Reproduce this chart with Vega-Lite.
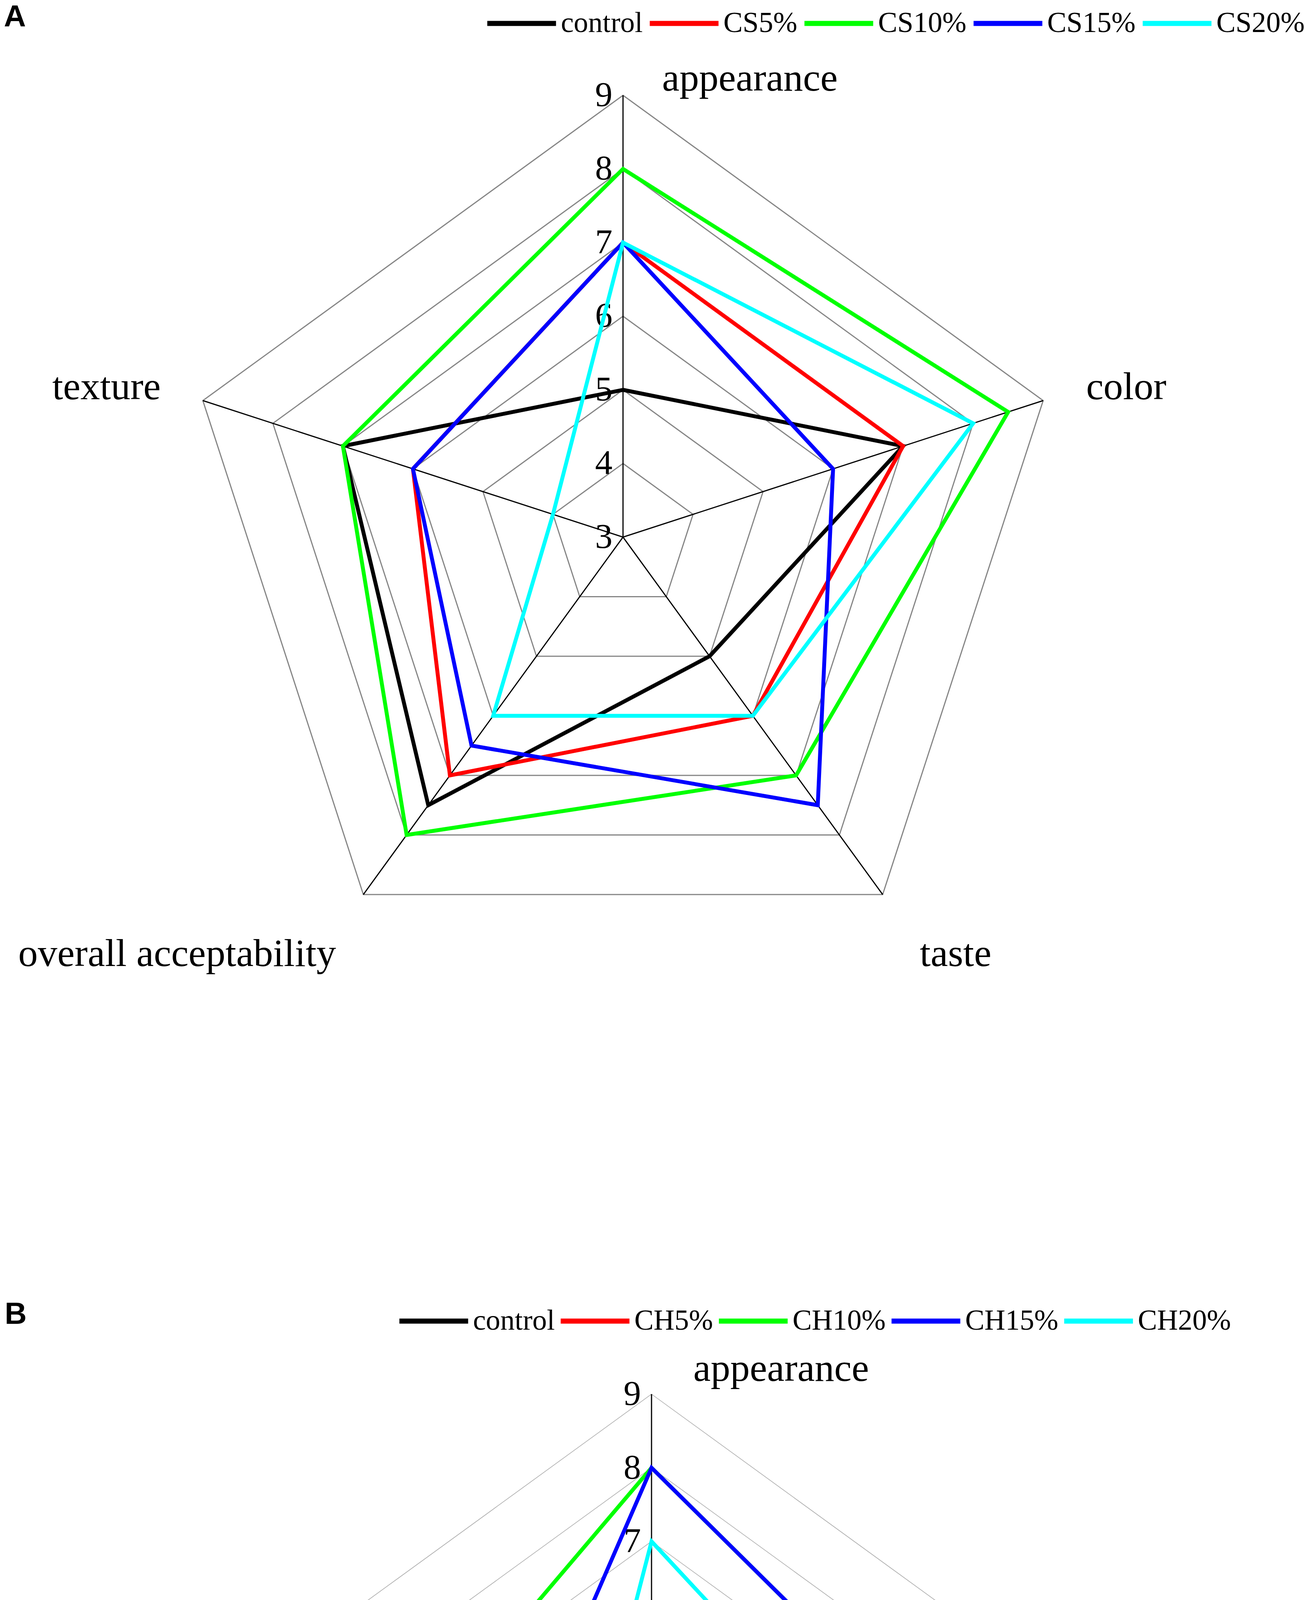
{
  "$schema": "https://vega.github.io/schema/vega-lite/v6.json",
  "padding": 0,
  "background": "white",
  "spacing": 0,
  "resolve": {"scale": {"color": "independent"}, "legend": {"color": "independent"}},
  "config": {"view": {"stroke": null}, "font": "Liberation Serif"},
  "datasets": {
    "grid": [
      {"attr": "appearance", "level": [3, 4, 5, 6, 7, 8, 9]},
      {"attr": "color", "level": [3, 4, 5, 6, 7, 8, 9]},
      {"attr": "taste", "level": [3, 4, 5, 6, 7, 8, 9]},
      {"attr": "overall acceptability", "level": [3, 4, 5, 6, 7, 8, 9]},
      {"attr": "texture", "level": [3, 4, 5, 6, 7, 8, 9]}
    ],
    "A": [
      {"sample": "control", "attr": "appearance", "score": 5},
      {"sample": "control", "attr": "color", "score": 7},
      {"sample": "control", "attr": "taste", "score": 5},
      {"sample": "control", "attr": "overall acceptability", "score": 7.5},
      {"sample": "control", "attr": "texture", "score": 7},
      {"sample": "CS5%", "attr": "appearance", "score": 7},
      {"sample": "CS5%", "attr": "color", "score": 7},
      {"sample": "CS5%", "attr": "taste", "score": 6},
      {"sample": "CS5%", "attr": "overall acceptability", "score": 7},
      {"sample": "CS5%", "attr": "texture", "score": 6},
      {"sample": "CS10%", "attr": "appearance", "score": 8},
      {"sample": "CS10%", "attr": "color", "score": 8.5},
      {"sample": "CS10%", "attr": "taste", "score": 7},
      {"sample": "CS10%", "attr": "overall acceptability", "score": 8},
      {"sample": "CS10%", "attr": "texture", "score": 7},
      {"sample": "CS15%", "attr": "appearance", "score": 7},
      {"sample": "CS15%", "attr": "color", "score": 6},
      {"sample": "CS15%", "attr": "taste", "score": 7.5},
      {"sample": "CS15%", "attr": "overall acceptability", "score": 6.5},
      {"sample": "CS15%", "attr": "texture", "score": 6},
      {"sample": "CS20%", "attr": "appearance", "score": 7},
      {"sample": "CS20%", "attr": "color", "score": 8},
      {"sample": "CS20%", "attr": "taste", "score": 6},
      {"sample": "CS20%", "attr": "overall acceptability", "score": 6},
      {"sample": "CS20%", "attr": "texture", "score": 4}
    ],
    "B": [
      {"sample": "control", "attr": "appearance", "score": 5},
      {"sample": "control", "attr": "color", "score": 7},
      {"sample": "control", "attr": "taste", "score": 5},
      {"sample": "control", "attr": "overall acceptability", "score": 7.5},
      {"sample": "control", "attr": "texture", "score": 7},
      {"sample": "CH5%", "attr": "appearance", "score": 6},
      {"sample": "CH5%", "attr": "color", "score": 5},
      {"sample": "CH5%", "attr": "taste", "score": 5},
      {"sample": "CH5%", "attr": "overall acceptability", "score": 6.5},
      {"sample": "CH5%", "attr": "texture", "score": 6},
      {"sample": "CH10%", "attr": "appearance", "score": 8},
      {"sample": "CH10%", "attr": "color", "score": 7},
      {"sample": "CH10%", "attr": "taste", "score": 7},
      {"sample": "CH10%", "attr": "overall acceptability", "score": 7.5},
      {"sample": "CH10%", "attr": "texture", "score": 6.5},
      {"sample": "CH15%", "attr": "appearance", "score": 8},
      {"sample": "CH15%", "attr": "color", "score": 7},
      {"sample": "CH15%", "attr": "taste", "score": 6.5},
      {"sample": "CH15%", "attr": "overall acceptability", "score": 6},
      {"sample": "CH15%", "attr": "texture", "score": 5},
      {"sample": "CH20%", "attr": "appearance", "score": 7},
      {"sample": "CH20%", "attr": "color", "score": 6},
      {"sample": "CH20%", "attr": "taste", "score": 6},
      {"sample": "CH20%", "attr": "overall acceptability", "score": 6},
      {"sample": "CH20%", "attr": "texture", "score": 4}
    ]
  },
  "vconcat": [
    {
      "width": 3341,
      "height": 3300,
      "layer": [
        {
          "data": {"name": "grid"},
          "transform": [
            {"flatten": ["level"]},
            {"filter": "datum.level > 3"},
            {"calculate": "indexof(['appearance','color','taste','overall acceptability','texture'], datum.attr)", "as": "idx"},
            {"calculate": "(datum.level - 3) * sin(datum.idx * 2 * PI / 5)", "as": "px"},
            {"calculate": "(datum.level - 3) * cos(datum.idx * 2 * PI / 5)", "as": "py"}
          ],
          "mark": {"type": "line", "interpolate": "linear-closed", "stroke": "#858585", "strokeWidth": 3},
          "encoding": {
            "x": {"field": "px", "type": "quantitative", "scale": {"domain": [-8.4615, 9.2626], "nice": false, "zero": false}, "axis": null},
            "y": {"field": "py", "type": "quantitative", "scale": {"domain": [-10.2122, 7.2944], "nice": false, "zero": false}, "axis": null},
            "detail": {"field": "level", "type": "nominal"},
            "order": {"field": "idx", "type": "quantitative"}
          }
        },
        {
          "data": {"name": "grid"},
          "transform": [
            {"flatten": ["level"]},
            {"filter": "datum.level == 9"},
            {"calculate": "indexof(['appearance','color','taste','overall acceptability','texture'], datum.attr)", "as": "idx"},
            {"calculate": "(datum.level - 3) * sin(datum.idx * 2 * PI / 5)", "as": "px"},
            {"calculate": "(datum.level - 3) * cos(datum.idx * 2 * PI / 5)", "as": "py"}
          ],
          "mark": {"type": "rule", "stroke": "black", "strokeWidth": 3},
          "encoding": {
            "x": {"field": "px", "type": "quantitative"},
            "y": {"field": "py", "type": "quantitative"},
            "x2": {"datum": 0},
            "y2": {"datum": 0}
          }
        },
        {
          "data": {"name": "grid"},
          "transform": [
            {"flatten": ["level"]},
            {"filter": "datum.attr == 'appearance'"},
            {"calculate": "datum.level - 3", "as": "py"},
            {"calculate": "0", "as": "px"}
          ],
          "mark": {"type": "text", "align": "right", "baseline": "middle", "dx": -27, "font": "Liberation Serif", "fontSize": 89, "color": "black"},
          "encoding": {
            "x": {"field": "px", "type": "quantitative"},
            "y": {"field": "py", "type": "quantitative"},
            "text": {"field": "level", "type": "nominal"}
          }
        },
        {
          "data": {"name": "A"},
          "transform": [
            {"calculate": "indexof(['appearance','color','taste','overall acceptability','texture'], datum.attr)", "as": "idx"},
            {"calculate": "(datum.score - 3) * sin(datum.idx * 2 * PI / 5)", "as": "px"},
            {"calculate": "(datum.score - 3) * cos(datum.idx * 2 * PI / 5)", "as": "py"}
          ],
          "mark": {"type": "line", "interpolate": "linear-closed", "strokeWidth": 10},
          "encoding": {
            "x": {"field": "px", "type": "quantitative"},
            "y": {"field": "py", "type": "quantitative"},
            "order": {"field": "idx", "type": "quantitative"},
            "color": {
              "field": "sample", "type": "nominal",
              "scale": {"domain": ["control", "CS5%", "CS10%", "CS15%", "CS20%"], "range": ["#000000", "#ff0000", "#00ff00", "#0000ff", "#00ffff"]},
              "legend": {"title": "A", "titleOrient": "left", "titleAnchor": "start", "titleBaseline": "top", "titleFont": "Liberation Sans", "titleFontSize": 78, "titleFontWeight": "bold", "titleColor": "black", "titlePadding": 1174, "orient": "none", "direction": "horizontal", "legendX": 10, "legendY": 6, "symbolType": "stroke", "symbolSize": 30976, "symbolStrokeWidth": 13, "labelFont": "Liberation Serif", "labelFontSize": 74, "labelColor": "black", "labelOffset": 6, "columnPadding": 11, "clipHeight": 108, "labelLimit": 0, "padding": 0}
            }
          }
        },
        {
          "data": {"name": "grid"},
          "transform": [
            {"flatten": ["level"]},
            {"filter": "datum.level == 9 && datum.attr == 'appearance'"},
            {"calculate": "0", "as": "px"},
            {"calculate": "6", "as": "py"}
          ],
          "mark": {"type": "text", "align": "left", "baseline": "alphabetic", "dx": 100, "dy": -12, "font": "Liberation Serif", "fontSize": 100, "color": "black"},
          "encoding": {"x": {"field": "px", "type": "quantitative"}, "y": {"field": "py", "type": "quantitative"}, "text": {"field": "attr"}}
        },
        {
          "data": {"name": "grid"},
          "transform": [
            {"flatten": ["level"]},
            {"filter": "datum.level == 9"},
            {"calculate": "indexof(['appearance','color','taste','overall acceptability','texture'], datum.attr)", "as": "idx"},
            {"calculate": "6 * sin(datum.idx * 2 * PI / 5)", "as": "px"},
            {"calculate": "6 * cos(datum.idx * 2 * PI / 5)", "as": "py"},
            {"filter": "datum.attr == 'color'"}
          ],
          "mark": {"type": "text", "align": "left", "baseline": "alphabetic", "dx": 110, "dy": -3, "font": "Liberation Serif", "fontSize": 100, "color": "black"},
          "encoding": {"x": {"field": "px", "type": "quantitative"}, "y": {"field": "py", "type": "quantitative"}, "text": {"field": "attr"}}
        },
        {
          "data": {"name": "grid"},
          "transform": [
            {"flatten": ["level"]},
            {"filter": "datum.level == 9"},
            {"calculate": "indexof(['appearance','color','taste','overall acceptability','texture'], datum.attr)", "as": "idx"},
            {"calculate": "6 * sin(datum.idx * 2 * PI / 5)", "as": "px"},
            {"calculate": "6 * cos(datum.idx * 2 * PI / 5)", "as": "py"},
            {"filter": "datum.attr == 'texture'"}
          ],
          "mark": {"type": "text", "align": "right", "baseline": "alphabetic", "dx": -108, "dy": -3, "font": "Liberation Serif", "fontSize": 100, "color": "black"},
          "encoding": {"x": {"field": "px", "type": "quantitative"}, "y": {"field": "py", "type": "quantitative"}, "text": {"field": "attr"}}
        },
        {
          "data": {"name": "grid"},
          "transform": [
            {"flatten": ["level"]},
            {"filter": "datum.level == 9"},
            {"calculate": "indexof(['appearance','color','taste','overall acceptability','texture'], datum.attr)", "as": "idx"},
            {"calculate": "6 * sin(datum.idx * 2 * PI / 5)", "as": "px"},
            {"calculate": "6 * cos(datum.idx * 2 * PI / 5)", "as": "py"},
            {"filter": "datum.attr == 'taste'"}
          ],
          "mark": {"type": "text", "align": "left", "baseline": "alphabetic", "dx": 95, "dy": 183, "font": "Liberation Serif", "fontSize": 100, "color": "black"},
          "encoding": {"x": {"field": "px", "type": "quantitative"}, "y": {"field": "py", "type": "quantitative"}, "text": {"field": "attr"}}
        },
        {
          "data": {"name": "grid"},
          "transform": [
            {"flatten": ["level"]},
            {"filter": "datum.level == 9"},
            {"calculate": "indexof(['appearance','color','taste','overall acceptability','texture'], datum.attr)", "as": "idx"},
            {"calculate": "6 * sin(datum.idx * 2 * PI / 5)", "as": "px"},
            {"calculate": "6 * cos(datum.idx * 2 * PI / 5)", "as": "py"},
            {"filter": "datum.attr == 'overall acceptability'"}
          ],
          "mark": {"type": "text", "align": "right", "baseline": "alphabetic", "dx": -70, "dy": 183, "font": "Liberation Serif", "fontSize": 100, "color": "black"},
          "encoding": {"x": {"field": "px", "type": "quantitative"}, "y": {"field": "py", "type": "quantitative"}, "text": {"field": "attr"}}
        }
      ]
    },
    {
      "width": 3341,
      "height": 2533,
      "layer": [
        {
          "data": {"name": "grid"},
          "transform": [
            {"flatten": ["level"]},
            {"filter": "datum.level > 3"},
            {"calculate": "indexof(['appearance','color','taste','overall acceptability','texture'], datum.attr)", "as": "idx"},
            {"calculate": "(datum.level - 3) * sin(datum.idx * 2 * PI / 5)", "as": "px"},
            {"calculate": "(datum.level - 3) * cos(datum.idx * 2 * PI / 5)", "as": "py"}
          ],
          "mark": {"type": "line", "interpolate": "linear-closed", "stroke": "#a6a6a6", "strokeWidth": 1.5},
          "encoding": {
            "x": {"field": "px", "type": "quantitative", "scale": {"domain": [-8.8488, 8.8753], "nice": false, "zero": false}, "axis": null},
            "y": {"field": "py", "type": "quantitative", "scale": {"domain": [-6.0106, 7.4271], "nice": false, "zero": false}, "axis": null},
            "detail": {"field": "level", "type": "nominal"},
            "order": {"field": "idx", "type": "quantitative"}
          }
        },
        {
          "data": {"name": "grid"},
          "transform": [
            {"flatten": ["level"]},
            {"filter": "datum.level == 9"},
            {"calculate": "indexof(['appearance','color','taste','overall acceptability','texture'], datum.attr)", "as": "idx"},
            {"calculate": "(datum.level - 3) * sin(datum.idx * 2 * PI / 5)", "as": "px"},
            {"calculate": "(datum.level - 3) * cos(datum.idx * 2 * PI / 5)", "as": "py"}
          ],
          "mark": {"type": "rule", "stroke": "black", "strokeWidth": 3},
          "encoding": {
            "x": {"field": "px", "type": "quantitative"},
            "y": {"field": "py", "type": "quantitative"},
            "x2": {"datum": 0},
            "y2": {"datum": 0}
          }
        },
        {
          "data": {"name": "grid"},
          "transform": [
            {"flatten": ["level"]},
            {"filter": "datum.attr == 'appearance'"},
            {"calculate": "datum.level - 3", "as": "py"},
            {"calculate": "0", "as": "px"}
          ],
          "mark": {"type": "text", "align": "right", "baseline": "middle", "dx": -27, "font": "Liberation Serif", "fontSize": 89, "color": "black"},
          "encoding": {
            "x": {"field": "px", "type": "quantitative"},
            "y": {"field": "py", "type": "quantitative"},
            "text": {"field": "level", "type": "nominal"}
          }
        },
        {
          "data": {"name": "B"},
          "transform": [
            {"calculate": "indexof(['appearance','color','taste','overall acceptability','texture'], datum.attr)", "as": "idx"},
            {"calculate": "(datum.score - 3) * sin(datum.idx * 2 * PI / 5)", "as": "px"},
            {"calculate": "(datum.score - 3) * cos(datum.idx * 2 * PI / 5)", "as": "py"}
          ],
          "mark": {"type": "line", "interpolate": "linear-closed", "strokeWidth": 10},
          "encoding": {
            "x": {"field": "px", "type": "quantitative"},
            "y": {"field": "py", "type": "quantitative"},
            "order": {"field": "idx", "type": "quantitative"},
            "color": {
              "field": "sample", "type": "nominal",
              "scale": {"domain": ["control", "CH5%", "CH10%", "CH15%", "CH20%"], "range": ["#000000", "#ff0000", "#00ff00", "#0000ff", "#00ffff"]},
              "legend": {"title": "B", "titleOrient": "left", "titleAnchor": "start", "titleBaseline": "top", "titleFont": "Liberation Sans", "titleFontSize": 78, "titleFontWeight": "bold", "titleColor": "black", "titlePadding": 947, "orient": "none", "direction": "horizontal", "legendX": 12, "legendY": 27, "symbolType": "stroke", "symbolSize": 30976, "symbolStrokeWidth": 13, "labelFont": "Liberation Serif", "labelFontSize": 74, "labelColor": "black", "labelOffset": 6, "columnPadding": 8, "clipHeight": 110, "labelLimit": 0, "padding": 0}
            }
          }
        },
        {
          "data": {"name": "grid"},
          "transform": [
            {"flatten": ["level"]},
            {"filter": "datum.level == 9 && datum.attr == 'appearance'"},
            {"calculate": "0", "as": "px"},
            {"calculate": "6", "as": "py"}
          ],
          "mark": {"type": "text", "align": "left", "baseline": "alphabetic", "dx": 107, "dy": -34, "font": "Liberation Serif", "fontSize": 100, "color": "black"},
          "encoding": {"x": {"field": "px", "type": "quantitative"}, "y": {"field": "py", "type": "quantitative"}, "text": {"field": "attr"}}
        },
        {
          "data": {"name": "grid"},
          "transform": [
            {"flatten": ["level"]},
            {"filter": "datum.level == 9"},
            {"calculate": "indexof(['appearance','color','taste','overall acceptability','texture'], datum.attr)", "as": "idx"},
            {"calculate": "6 * sin(datum.idx * 2 * PI / 5)", "as": "px"},
            {"calculate": "6 * cos(datum.idx * 2 * PI / 5)", "as": "py"},
            {"filter": "datum.attr == 'color'"}
          ],
          "mark": {"type": "text", "align": "left", "baseline": "alphabetic", "dx": 118, "dy": -1, "font": "Liberation Serif", "fontSize": 100, "color": "black"},
          "encoding": {"x": {"field": "px", "type": "quantitative"}, "y": {"field": "py", "type": "quantitative"}, "text": {"field": "attr"}}
        },
        {
          "data": {"name": "grid"},
          "transform": [
            {"flatten": ["level"]},
            {"filter": "datum.level == 9"},
            {"calculate": "indexof(['appearance','color','taste','overall acceptability','texture'], datum.attr)", "as": "idx"},
            {"calculate": "6 * sin(datum.idx * 2 * PI / 5)", "as": "px"},
            {"calculate": "6 * cos(datum.idx * 2 * PI / 5)", "as": "py"},
            {"filter": "datum.attr == 'texture'"}
          ],
          "mark": {"type": "text", "align": "right", "baseline": "alphabetic", "dx": -104, "dy": -1, "font": "Liberation Serif", "fontSize": 100, "color": "black"},
          "encoding": {"x": {"field": "px", "type": "quantitative"}, "y": {"field": "py", "type": "quantitative"}, "text": {"field": "attr"}}
        },
        {
          "data": {"name": "grid"},
          "transform": [
            {"flatten": ["level"]},
            {"filter": "datum.level == 9"},
            {"calculate": "indexof(['appearance','color','taste','overall acceptability','texture'], datum.attr)", "as": "idx"},
            {"calculate": "6 * sin(datum.idx * 2 * PI / 5)", "as": "px"},
            {"calculate": "6 * cos(datum.idx * 2 * PI / 5)", "as": "py"},
            {"filter": "datum.attr == 'taste'"}
          ],
          "mark": {"type": "text", "align": "left", "baseline": "alphabetic", "dx": 101, "dy": 183, "font": "Liberation Serif", "fontSize": 100, "color": "black"},
          "encoding": {"x": {"field": "px", "type": "quantitative"}, "y": {"field": "py", "type": "quantitative"}, "text": {"field": "attr"}}
        },
        {
          "data": {"name": "grid"},
          "transform": [
            {"flatten": ["level"]},
            {"filter": "datum.level == 9"},
            {"calculate": "indexof(['appearance','color','taste','overall acceptability','texture'], datum.attr)", "as": "idx"},
            {"calculate": "6 * sin(datum.idx * 2 * PI / 5)", "as": "px"},
            {"calculate": "6 * cos(datum.idx * 2 * PI / 5)", "as": "py"},
            {"filter": "datum.attr == 'overall acceptability'"}
          ],
          "mark": {"type": "text", "align": "right", "baseline": "alphabetic", "dx": -68, "dy": 183, "font": "Liberation Serif", "fontSize": 100, "color": "black"},
          "encoding": {"x": {"field": "px", "type": "quantitative"}, "y": {"field": "py", "type": "quantitative"}, "text": {"field": "attr"}}
        }
      ]
    }
  ]
}
